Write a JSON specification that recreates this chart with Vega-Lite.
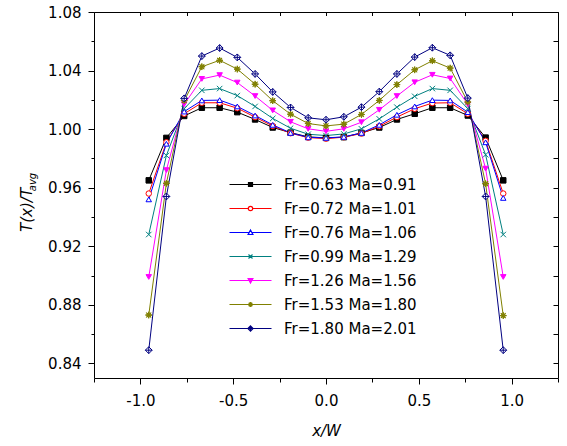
{
  "$schema": "https://vega.github.io/schema/vega-lite/v6.json",
  "width": 464,
  "height": 366,
  "autosize": {"type": "none"},
  "padding": {"left": 94, "top": 12, "right": 9, "bottom": 68},
  "background": "white",
  "config": {
    "view": {"stroke": null},
    "font": "DejaVu Sans",
    "axis": {"domainColor": "black", "tickColor": "black", "labelColor": "black", "titleColor": "black", "grid": false, "labelFont": "DejaVu Sans", "labelFontSize": 15, "titleFont": "DejaVu Sans", "domainWidth": 1, "tickWidth": 1}
  },
  "data": {"values": [
    {"s":"Fr=0.63 Ma=0.91","x":-0.955,"y":0.965},{"s":"Fr=0.63 Ma=0.91","x":-0.86,"y":0.994},{"s":"Fr=0.63 Ma=0.91","x":-0.764,"y":1.009},{"s":"Fr=0.63 Ma=0.91","x":-0.669,"y":1.0146},{"s":"Fr=0.63 Ma=0.91","x":-0.573,"y":1.0146},{"s":"Fr=0.63 Ma=0.91","x":-0.478,"y":1.0116},{"s":"Fr=0.63 Ma=0.91","x":-0.382,"y":1.0066},{"s":"Fr=0.63 Ma=0.91","x":-0.287,"y":1.0011},{"s":"Fr=0.63 Ma=0.91","x":-0.191,"y":0.9976},{"s":"Fr=0.63 Ma=0.91","x":-0.096,"y":0.9947},{"s":"Fr=0.63 Ma=0.91","x":0,"y":0.994},{"s":"Fr=0.63 Ma=0.91","x":0.096,"y":0.9945},{"s":"Fr=0.63 Ma=0.91","x":0.191,"y":0.9974},{"s":"Fr=0.63 Ma=0.91","x":0.287,"y":1.0011},{"s":"Fr=0.63 Ma=0.91","x":0.382,"y":1.0066},{"s":"Fr=0.63 Ma=0.91","x":0.478,"y":1.0105},{"s":"Fr=0.63 Ma=0.91","x":0.573,"y":1.0146},{"s":"Fr=0.63 Ma=0.91","x":0.669,"y":1.0146},{"s":"Fr=0.63 Ma=0.91","x":0.764,"y":1.0093},{"s":"Fr=0.63 Ma=0.91","x":0.86,"y":0.9942},{"s":"Fr=0.63 Ma=0.91","x":0.955,"y":0.965},
    {"s":"Fr=0.72 Ma=1.01","x":-0.955,"y":0.956},{"s":"Fr=0.72 Ma=1.01","x":-0.86,"y":0.991},{"s":"Fr=0.72 Ma=1.01","x":-0.764,"y":1.0105},{"s":"Fr=0.72 Ma=1.01","x":-0.669,"y":1.018},{"s":"Fr=0.72 Ma=1.01","x":-0.573,"y":1.018},{"s":"Fr=0.72 Ma=1.01","x":-0.478,"y":1.0143},{"s":"Fr=0.72 Ma=1.01","x":-0.382,"y":1.0082},{"s":"Fr=0.72 Ma=1.01","x":-0.287,"y":1.0022},{"s":"Fr=0.72 Ma=1.01","x":-0.191,"y":0.9972},{"s":"Fr=0.72 Ma=1.01","x":-0.096,"y":0.9942},{"s":"Fr=0.72 Ma=1.01","x":0,"y":0.9935},{"s":"Fr=0.72 Ma=1.01","x":0.096,"y":0.9945},{"s":"Fr=0.72 Ma=1.01","x":0.191,"y":0.997},{"s":"Fr=0.72 Ma=1.01","x":0.287,"y":1.002},{"s":"Fr=0.72 Ma=1.01","x":0.382,"y":1.0082},{"s":"Fr=0.72 Ma=1.01","x":0.478,"y":1.0139},{"s":"Fr=0.72 Ma=1.01","x":0.573,"y":1.0178},{"s":"Fr=0.72 Ma=1.01","x":0.669,"y":1.018},{"s":"Fr=0.72 Ma=1.01","x":0.764,"y":1.0105},{"s":"Fr=0.72 Ma=1.01","x":0.86,"y":0.992},{"s":"Fr=0.72 Ma=1.01","x":0.955,"y":0.956},
    {"s":"Fr=0.76 Ma=1.06","x":-0.955,"y":0.952},{"s":"Fr=0.76 Ma=1.06","x":-0.86,"y":0.99},{"s":"Fr=0.76 Ma=1.06","x":-0.764,"y":1.012},{"s":"Fr=0.76 Ma=1.06","x":-0.669,"y":1.0196},{"s":"Fr=0.76 Ma=1.06","x":-0.573,"y":1.0198},{"s":"Fr=0.76 Ma=1.06","x":-0.478,"y":1.0155},{"s":"Fr=0.76 Ma=1.06","x":-0.382,"y":1.0093},{"s":"Fr=0.76 Ma=1.06","x":-0.287,"y":1.0029},{"s":"Fr=0.76 Ma=1.06","x":-0.191,"y":0.9974},{"s":"Fr=0.76 Ma=1.06","x":-0.096,"y":0.9944},{"s":"Fr=0.76 Ma=1.06","x":0,"y":0.994},{"s":"Fr=0.76 Ma=1.06","x":0.096,"y":0.9947},{"s":"Fr=0.76 Ma=1.06","x":0.191,"y":0.9974},{"s":"Fr=0.76 Ma=1.06","x":0.287,"y":1.0029},{"s":"Fr=0.76 Ma=1.06","x":0.382,"y":1.0098},{"s":"Fr=0.76 Ma=1.06","x":0.478,"y":1.0155},{"s":"Fr=0.76 Ma=1.06","x":0.573,"y":1.0198},{"s":"Fr=0.76 Ma=1.06","x":0.669,"y":1.0196},{"s":"Fr=0.76 Ma=1.06","x":0.764,"y":1.0116},{"s":"Fr=0.76 Ma=1.06","x":0.86,"y":0.991},{"s":"Fr=0.76 Ma=1.06","x":0.955,"y":0.953},
    {"s":"Fr=0.99 Ma=1.29","x":-0.955,"y":0.928},{"s":"Fr=0.99 Ma=1.29","x":-0.86,"y":0.982},{"s":"Fr=0.99 Ma=1.29","x":-0.764,"y":1.014},{"s":"Fr=0.99 Ma=1.29","x":-0.669,"y":1.0265},{"s":"Fr=0.99 Ma=1.29","x":-0.573,"y":1.0277},{"s":"Fr=0.99 Ma=1.29","x":-0.478,"y":1.0229},{"s":"Fr=0.99 Ma=1.29","x":-0.382,"y":1.0155},{"s":"Fr=0.99 Ma=1.29","x":-0.287,"y":1.0073},{"s":"Fr=0.99 Ma=1.29","x":-0.191,"y":1.0006},{"s":"Fr=0.99 Ma=1.29","x":-0.096,"y":0.9965},{"s":"Fr=0.99 Ma=1.29","x":0,"y":0.9956},{"s":"Fr=0.99 Ma=1.29","x":0.096,"y":0.9967},{"s":"Fr=0.99 Ma=1.29","x":0.191,"y":1.0002},{"s":"Fr=0.99 Ma=1.29","x":0.287,"y":1.007},{"s":"Fr=0.99 Ma=1.29","x":0.382,"y":1.015},{"s":"Fr=0.99 Ma=1.29","x":0.478,"y":1.0224},{"s":"Fr=0.99 Ma=1.29","x":0.573,"y":1.0277},{"s":"Fr=0.99 Ma=1.29","x":0.669,"y":1.0265},{"s":"Fr=0.99 Ma=1.29","x":0.764,"y":1.014},{"s":"Fr=0.99 Ma=1.29","x":0.86,"y":0.9825},{"s":"Fr=0.99 Ma=1.29","x":0.955,"y":0.928},
    {"s":"Fr=1.26 Ma=1.56","x":-0.955,"y":0.899},{"s":"Fr=1.26 Ma=1.56","x":-0.86,"y":0.972},{"s":"Fr=1.26 Ma=1.56","x":-0.764,"y":1.017},{"s":"Fr=1.26 Ma=1.56","x":-0.669,"y":1.0343},{"s":"Fr=1.26 Ma=1.56","x":-0.573,"y":1.0369},{"s":"Fr=1.26 Ma=1.56","x":-0.478,"y":1.0318},{"s":"Fr=1.26 Ma=1.56","x":-0.382,"y":1.0226},{"s":"Fr=1.26 Ma=1.56","x":-0.287,"y":1.0128},{"s":"Fr=1.26 Ma=1.56","x":-0.191,"y":1.005},{"s":"Fr=1.26 Ma=1.56","x":-0.096,"y":1.0002},{"s":"Fr=1.26 Ma=1.56","x":0,"y":0.9985},{"s":"Fr=1.26 Ma=1.56","x":0.096,"y":1.0002},{"s":"Fr=1.26 Ma=1.56","x":0.191,"y":1.0047},{"s":"Fr=1.26 Ma=1.56","x":0.287,"y":1.0132},{"s":"Fr=1.26 Ma=1.56","x":0.382,"y":1.0226},{"s":"Fr=1.26 Ma=1.56","x":0.478,"y":1.032},{"s":"Fr=1.26 Ma=1.56","x":0.573,"y":1.0371},{"s":"Fr=1.26 Ma=1.56","x":0.669,"y":1.0346},{"s":"Fr=1.26 Ma=1.56","x":0.764,"y":1.0169},{"s":"Fr=1.26 Ma=1.56","x":0.86,"y":0.973},{"s":"Fr=1.26 Ma=1.56","x":0.955,"y":0.899},
    {"s":"Fr=1.53 Ma=1.80","x":-0.955,"y":0.873},{"s":"Fr=1.53 Ma=1.80","x":-0.86,"y":0.963},{"s":"Fr=1.53 Ma=1.80","x":-0.764,"y":1.0195},{"s":"Fr=1.53 Ma=1.80","x":-0.669,"y":1.0426},{"s":"Fr=1.53 Ma=1.80","x":-0.573,"y":1.047},{"s":"Fr=1.53 Ma=1.80","x":-0.478,"y":1.041},{"s":"Fr=1.53 Ma=1.80","x":-0.382,"y":1.0307},{"s":"Fr=1.53 Ma=1.80","x":-0.287,"y":1.0194},{"s":"Fr=1.53 Ma=1.80","x":-0.191,"y":1.0102},{"s":"Fr=1.53 Ma=1.80","x":-0.096,"y":1.0038},{"s":"Fr=1.53 Ma=1.80","x":0,"y":1.0022},{"s":"Fr=1.53 Ma=1.80","x":0.096,"y":1.0034},{"s":"Fr=1.53 Ma=1.80","x":0.191,"y":1.01},{"s":"Fr=1.53 Ma=1.80","x":0.287,"y":1.0196},{"s":"Fr=1.53 Ma=1.80","x":0.382,"y":1.0304},{"s":"Fr=1.53 Ma=1.80","x":0.478,"y":1.0405},{"s":"Fr=1.53 Ma=1.80","x":0.573,"y":1.0467},{"s":"Fr=1.53 Ma=1.80","x":0.669,"y":1.0417},{"s":"Fr=1.53 Ma=1.80","x":0.764,"y":1.0185},{"s":"Fr=1.53 Ma=1.80","x":0.86,"y":0.9627},{"s":"Fr=1.53 Ma=1.80","x":0.955,"y":0.8726},
    {"s":"Fr=1.80 Ma=2.01","x":-0.955,"y":0.849},{"s":"Fr=1.80 Ma=2.01","x":-0.86,"y":0.954},{"s":"Fr=1.80 Ma=2.01","x":-0.764,"y":1.021},{"s":"Fr=1.80 Ma=2.01","x":-0.669,"y":1.0499},{"s":"Fr=1.80 Ma=2.01","x":-0.573,"y":1.0554},{"s":"Fr=1.80 Ma=2.01","x":-0.478,"y":1.049},{"s":"Fr=1.80 Ma=2.01","x":-0.382,"y":1.0377},{"s":"Fr=1.80 Ma=2.01","x":-0.287,"y":1.0254},{"s":"Fr=1.80 Ma=2.01","x":-0.191,"y":1.0148},{"s":"Fr=1.80 Ma=2.01","x":-0.096,"y":1.0077},{"s":"Fr=1.80 Ma=2.01","x":0,"y":1.0064},{"s":"Fr=1.80 Ma=2.01","x":0.096,"y":1.0084},{"s":"Fr=1.80 Ma=2.01","x":0.191,"y":1.015},{"s":"Fr=1.80 Ma=2.01","x":0.287,"y":1.0256},{"s":"Fr=1.80 Ma=2.01","x":0.382,"y":1.0377},{"s":"Fr=1.80 Ma=2.01","x":0.478,"y":1.0492},{"s":"Fr=1.80 Ma=2.01","x":0.573,"y":1.0556},{"s":"Fr=1.80 Ma=2.01","x":0.669,"y":1.0504},{"s":"Fr=1.80 Ma=2.01","x":0.764,"y":1.0212},{"s":"Fr=1.80 Ma=2.01","x":0.86,"y":0.954},{"s":"Fr=1.80 Ma=2.01","x":0.955,"y":0.849}
  ]},
  "layer": [
    {
      "mark": {"type": "line", "strokeWidth": 1},
      "encoding": {
        "x": {"field": "x", "type": "quantitative", "scale": {"domain": [-1.25, 1.25], "nice": false, "zero": false},
          "axis": {"orient": "bottom", "values": [-1.25, -1, -0.75, -0.5, -0.25, 0, 0.25, 0.5, 0.75, 1, 1.25],
            "labelExpr": "abs(datum.value*2-round(datum.value*2))<0.001 && abs(datum.value)<1.1 ? replace(format(datum.value,'.1f'),'\u2212','-') : ''",
            "tickSize": {"condition": {"test": "abs(datum.value*2-round(datum.value*2))<0.001 && abs(datum.value)<1.1", "value": 6}, "value": 4},
            "labelPadding": 9, "labelFlush": false,
            "title": "x/W", "titleFontStyle": "italic", "titleFontWeight": "normal", "titleFontSize": 15,
            "titleX": 232, "titleY": 57.7, "titleAlign": "center", "titleBaseline": "alphabetic"}},
        "y": {"field": "y", "type": "quantitative", "scale": {"domain": [0.83, 1.08], "nice": false, "zero": false},
          "axis": {"orient": "left", "values": [0.84, 0.86, 0.88, 0.9, 0.92, 0.94, 0.96, 0.98, 1.0, 1.02, 1.04, 1.06, 1.08],
            "labelExpr": "round(datum.value*100)%4==0 ? format(datum.value,'.2f') : ''",
            "tickSize": {"condition": {"test": "round(datum.value*100)%4==0", "value": 6}, "value": 3},
            "labelPadding": 7, "labelFlush": false,
            "title": "T(x)/T", "titleFontStyle": "italic", "titleFontWeight": "normal", "titleFontSize": 15,
            "titleAngle": 270, "titleX": -62.3, "titleY": 219.4, "titleAlign": "left", "titleBaseline": "alphabetic"}},
        "stroke": {"field": "s", "type": "nominal",
          "scale": {"domain": ["Fr=0.63 Ma=0.91", "Fr=0.72 Ma=1.01", "Fr=0.76 Ma=1.06", "Fr=0.99 Ma=1.29", "Fr=1.26 Ma=1.56", "Fr=1.53 Ma=1.80", "Fr=1.80 Ma=2.01"],
            "range": ["#000000", "#FF0000", "#0000FF", "#008080", "#FF00FF", "#808000", "#000080"]},
          "legend": null}
      }
    },
    {
      "mark": {"type": "point", "size": 30, "strokeWidth": 1, "opacity": 1},
      "encoding": {
        "x": {"field": "x", "type": "quantitative", "scale": {"domain": [-1.25, 1.25], "nice": false, "zero": false},
          "axis": {"orient": "top", "values": [-1.25, -1, -0.75, -0.5, -0.25, 0, 0.25, 0.5, 0.75, 1, 1.25], "labels": false, "tickSize": -3.5,
            "title": "avg", "titleFontStyle": "italic", "titleFontWeight": "normal", "titleFontSize": 10,
            "titleAngle": 270, "titleX": -59, "titleY": 178.7, "titleAlign": "left", "titleBaseline": "alphabetic"}},
        "y": {"field": "y", "type": "quantitative", "scale": {"domain": [0.83, 1.08], "nice": false, "zero": false},
          "axis": {"orient": "right", "values": [0.84, 0.86, 0.88, 0.9, 0.92, 0.94, 0.96, 0.98, 1.0, 1.02, 1.04, 1.06, 1.08], "labels": false, "tickSize": -5, "title": null}},
        "stroke": {"field": "s", "type": "nominal",
          "scale": {"domain": ["Fr=0.63 Ma=0.91", "Fr=0.72 Ma=1.01", "Fr=0.76 Ma=1.06", "Fr=0.99 Ma=1.29", "Fr=1.26 Ma=1.56", "Fr=1.53 Ma=1.80", "Fr=1.80 Ma=2.01"],
            "range": ["#000000", "#FF0000", "#0000FF", "#008080", "#FF00FF", "#808000", "#000080"]},
          "legend": null},
        "fill": {"field": "s", "type": "nominal",
          "scale": {"domain": ["Fr=0.63 Ma=0.91", "Fr=0.72 Ma=1.01", "Fr=0.76 Ma=1.06", "Fr=0.99 Ma=1.29", "Fr=1.26 Ma=1.56", "Fr=1.53 Ma=1.80", "Fr=1.80 Ma=2.01"],
            "range": ["#000000", "#FFFFFF", "#FFFFFF", "#008080", "#FF00FF", "#808000", "#FFFFFF"]},
          "legend": null},
        "shape": {"field": "s", "type": "nominal",
          "scale": {"domain": ["Fr=0.63 Ma=0.91", "Fr=0.72 Ma=1.01", "Fr=0.76 Ma=1.06", "Fr=0.99 Ma=1.29", "Fr=1.26 Ma=1.56", "Fr=1.53 Ma=1.80", "Fr=1.80 Ma=2.01"],
            "range": ["square", "circle", "triangle-up", "M-1,-1L1,1M-1,1L1,-1", "triangle-down",
              "M1.2,0L0.416,0.172L0.849,0.849L0.172,0.416L0,1.2L-0.172,0.416L-0.849,0.849L-0.416,0.172L-1.2,0L-0.416,-0.172L-0.849,-0.849L-0.172,-0.416L0,-1.2L0.172,-0.416L0.849,-0.849L0.416,-0.172Z",
              "M0,-1.25L1.25,0L0,1.25L-1.25,0ZM-1.25,0H1.25M0,-1.25V1.25"]},
          "legend": null}
      }
    },
    {
      "mark": {"type": "point", "size": 16, "strokeWidth": 1, "opacity": 0, "clip": true},
      "encoding": {
        "x": {"field": "x", "type": "quantitative", "scale": {"domain": [-1.25, 1.25], "nice": false, "zero": false}, "axis": null},
        "y": {"field": "y", "type": "quantitative", "scale": {"domain": [0.83, 1.08], "nice": false, "zero": false}, "axis": null},
        "stroke": {"field": "s", "type": "nominal",
          "scale": {"domain": ["Fr=0.63 Ma=0.91", "Fr=0.72 Ma=1.01", "Fr=0.76 Ma=1.06", "Fr=0.99 Ma=1.29", "Fr=1.26 Ma=1.56", "Fr=1.53 Ma=1.80", "Fr=1.80 Ma=2.01"],
            "range": ["#000000", "#FF0000", "#0000FF", "#008080", "#FF00FF", "#808000", "#000080"]},
          "legend": {"title": null, "orient": "none", "legendX": 149, "legendY": 165, "labelFont": "DejaVu Sans", "labelFontSize": 15, "labelColor": "black", "rowPadding": 8, "labelOffset": 26, "symbolSize": 16, "symbolStrokeWidth": 1.2, "padding": 0, "symbolOpacity": 1}},
        "fill": {"field": "s", "type": "nominal",
          "scale": {"domain": ["Fr=0.63 Ma=0.91", "Fr=0.72 Ma=1.01", "Fr=0.76 Ma=1.06", "Fr=0.99 Ma=1.29", "Fr=1.26 Ma=1.56", "Fr=1.53 Ma=1.80", "Fr=1.80 Ma=2.01"],
            "range": ["#000000", "#FFFFFF", "#FFFFFF", "#008080", "#FF00FF", "#808000", "#FFFFFF"]},
          "legend": {"title": null, "orient": "none", "legendX": 149, "legendY": 165, "labelFont": "DejaVu Sans", "labelFontSize": 15, "labelColor": "black", "rowPadding": 8, "labelOffset": 26, "symbolSize": 16, "symbolStrokeWidth": 1.2, "padding": 0, "symbolOpacity": 1}},
        "shape": {"field": "s", "type": "nominal",
          "scale": {"domain": ["Fr=0.63 Ma=0.91", "Fr=0.72 Ma=1.01", "Fr=0.76 Ma=1.06", "Fr=0.99 Ma=1.29", "Fr=1.26 Ma=1.56", "Fr=1.53 Ma=1.80", "Fr=1.80 Ma=2.01"],
            "range": ["M-10.5,0H10.5M-1,-1H1V1H-1Z",
              "M-10.5,0H-1.1M1.1,0H10.5M-1.1,0A1.1,1.1,0,1,0,1.1,0A1.1,1.1,0,1,0,-1.1,0Z",
              "M-10.5,0H-0.65M0.65,0H10.5M0,-1.2L1.2,1H-1.2Z",
              "M-10.5,0H10.5M-1,-1L1,1M-1,1L1,-1",
              "M-10.5,0H10.5M-1.2,-1H1.2L0,1.2Z",
              "M-10.5,0H10.5M1.2,0L0.416,0.172L0.849,0.849L0.172,0.416L0,1.2L-0.172,0.416L-0.849,0.849L-0.416,0.172L-1.2,0L-0.416,-0.172L-0.849,-0.849L-0.172,-0.416L0,-1.2L0.172,-0.416L0.849,-0.849L0.416,-0.172Z",
              "M-10.5,0H-1.3M1.3,0H10.5M0,-1.3L1.3,0L0,1.3L-1.3,0ZM-1.3,0H1.3M0,-1.3V1.3"]},
          "legend": {"title": null, "orient": "none", "legendX": 149, "legendY": 165, "labelFont": "DejaVu Sans", "labelFontSize": 15, "labelColor": "black", "rowPadding": 8, "labelOffset": 26, "symbolSize": 16, "symbolStrokeWidth": 1.2, "padding": 0, "symbolOpacity": 1}}
      }
    }
  ],
  "resolve": {
    "scale": {"x": "independent", "y": "independent", "stroke": "independent", "fill": "independent", "shape": "independent"},
    "axis": {"x": "independent", "y": "independent"}
  }
}
